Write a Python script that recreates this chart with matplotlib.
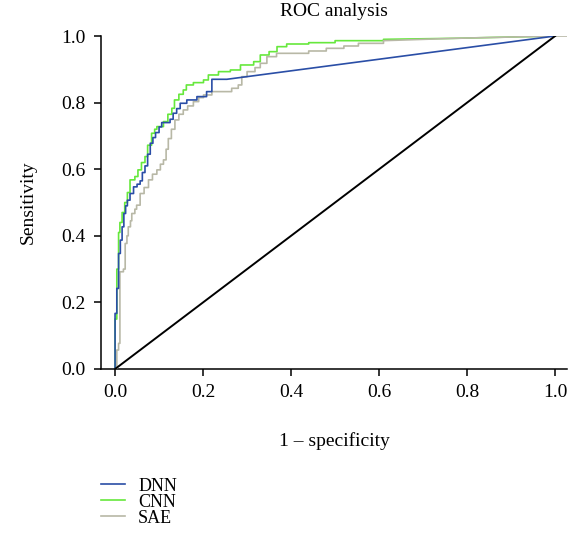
import matplotlib
matplotlib.use('Agg')
import matplotlib.pyplot as plt

# ROC curve vertices (fpr, tpr)
dnn_fpr = [0, 0, 0.004, 0.004, 0.008, 0.008, 0.012, 0.012, 0.016, 0.016,
           0.020, 0.020, 0.024, 0.024, 0.028, 0.028, 0.034, 0.034, 0.042, 0.042,
           0.050, 0.050, 0.057, 0.057, 0.062, 0.062, 0.068, 0.068, 0.074, 0.074,
           0.080, 0.080, 0.086, 0.086, 0.092, 0.092, 0.100, 0.100, 0.106, 0.106,
           0.125, 0.125, 0.132, 0.132, 0.140, 0.140, 0.148, 0.148, 0.163, 0.163,
           0.186, 0.186, 0.208, 0.208, 0.220, 0.220, 0.254, 1.0]
dnn_tpr = [0, 0.167, 0.167, 0.242, 0.242, 0.347, 0.347, 0.387, 0.387, 0.427,
           0.427, 0.467, 0.467, 0.490, 0.490, 0.507, 0.507, 0.527, 0.527, 0.547,
           0.547, 0.555, 0.555, 0.565, 0.565, 0.590, 0.590, 0.610, 0.610, 0.645,
           0.645, 0.678, 0.678, 0.695, 0.695, 0.710, 0.710, 0.727, 0.727, 0.740,
           0.740, 0.750, 0.750, 0.768, 0.768, 0.782, 0.782, 0.798, 0.798, 0.808,
           0.808, 0.818, 0.818, 0.833, 0.833, 0.870, 0.870, 1.0]

cnn_fpr = [0, 0, 0.004, 0.004, 0.008, 0.008, 0.011, 0.011, 0.016, 0.016,
           0.022, 0.022, 0.028, 0.028, 0.034, 0.034, 0.045, 0.045, 0.052, 0.052,
           0.060, 0.060, 0.068, 0.068, 0.074, 0.074, 0.083, 0.083, 0.090, 0.090,
           0.095, 0.095, 0.110, 0.110, 0.120, 0.120, 0.129, 0.129, 0.135, 0.135,
           0.145, 0.145, 0.155, 0.155, 0.162, 0.162, 0.178, 0.178, 0.201, 0.201,
           0.212, 0.212, 0.235, 0.235, 0.262, 0.262, 0.285, 0.285, 0.315, 0.315,
           0.330, 0.330, 0.350, 0.350, 0.368, 0.368, 0.390, 0.390, 0.440, 0.440,
           0.500, 0.500, 0.610, 0.610, 0.770, 1.0]
cnn_tpr = [0, 0.150, 0.150, 0.300, 0.300, 0.410, 0.410, 0.440, 0.440, 0.470,
           0.470, 0.500, 0.500, 0.530, 0.530, 0.568, 0.568, 0.578, 0.578, 0.598,
           0.598, 0.620, 0.620, 0.638, 0.638, 0.672, 0.672, 0.708, 0.708, 0.720,
           0.720, 0.728, 0.728, 0.743, 0.743, 0.765, 0.765, 0.783, 0.783, 0.808,
           0.808, 0.825, 0.825, 0.838, 0.838, 0.853, 0.853, 0.860, 0.860, 0.868,
           0.868, 0.883, 0.883, 0.893, 0.893, 0.898, 0.898, 0.913, 0.913, 0.923,
           0.923, 0.943, 0.943, 0.953, 0.953, 0.968, 0.968, 0.976, 0.976, 0.980,
           0.980, 0.986, 0.986, 0.990, 0.993, 1.0]

sae_fpr = [0, 0.004, 0.004, 0.008, 0.008, 0.011, 0.011, 0.019, 0.019, 0.023,
           0.023, 0.027, 0.027, 0.030, 0.030, 0.035, 0.035, 0.038, 0.038, 0.045,
           0.045, 0.049, 0.049, 0.057, 0.057, 0.066, 0.066, 0.076, 0.076, 0.085,
           0.085, 0.095, 0.095, 0.103, 0.103, 0.110, 0.110, 0.116, 0.116, 0.121,
           0.121, 0.128, 0.128, 0.136, 0.136, 0.145, 0.145, 0.155, 0.155, 0.165,
           0.165, 0.178, 0.178, 0.190, 0.190, 0.201, 0.201, 0.220, 0.220, 0.265,
           0.265, 0.280, 0.280, 0.288, 0.288, 0.300, 0.300, 0.318, 0.318, 0.330,
           0.330, 0.345, 0.345, 0.367, 0.367, 0.440, 0.440, 0.480, 0.480, 0.520,
           0.520, 0.553, 0.553, 0.610, 0.610, 0.770, 1.0, 1.03]
sae_tpr = [0, 0, 0.057, 0.057, 0.077, 0.077, 0.292, 0.292, 0.300, 0.300,
           0.377, 0.377, 0.400, 0.400, 0.427, 0.427, 0.445, 0.445, 0.467, 0.467,
           0.480, 0.480, 0.492, 0.492, 0.527, 0.527, 0.545, 0.545, 0.568, 0.568,
           0.585, 0.585, 0.598, 0.598, 0.615, 0.615, 0.628, 0.628, 0.660, 0.660,
           0.692, 0.692, 0.720, 0.720, 0.748, 0.748, 0.765, 0.765, 0.778, 0.778,
           0.790, 0.790, 0.803, 0.803, 0.815, 0.815, 0.823, 0.823, 0.833, 0.833,
           0.843, 0.843, 0.853, 0.853, 0.878, 0.878, 0.893, 0.893, 0.905, 0.905,
           0.918, 0.918, 0.938, 0.938, 0.948, 0.948, 0.955, 0.955, 0.963, 0.963,
           0.970, 0.970, 0.978, 0.978, 0.986, 0.993, 1.0, 1.0]

chance = [0, 1]
ticks = [0.0, 0.2, 0.4, 0.6, 0.8, 1.0]

plt.rcParams['font.family'] = ['Liberation Serif', 'DejaVu Serif']

fig = plt.figure(figsize=(5.81, 5.39), dpi=100)
ax = fig.add_axes([0.1738, 0.3154, 0.8021, 0.6178])

ax.plot(cnn_fpr, cnn_tpr, color='#66e83c', lw=1.2, label='CNN', zorder=2)
ax.plot(sae_fpr, sae_tpr, color='#b8b8a6', lw=1.2, label='SAE', zorder=3)
ax.plot(dnn_fpr, dnn_tpr, color='#2a4ea6', lw=1.2, label='DNN', zorder=4)
ax.plot(chance, chance, color='black', lw=1.4, zorder=5)

ax.set_xlim(-0.032, 1.027)
ax.set_ylim(0, 1)
ax.set_xticks(ticks)
ax.set_yticks(ticks)
ax.set_xticklabels([f'{t:.1f}' for t in ticks])
ax.set_yticklabels([f'{t:.1f}' for t in ticks])
ax.tick_params(labelsize=14, length=5, width=1.1, pad=6)
for s in ['top', 'right']:
    ax.spines[s].set_visible(False)
for s in ['left', 'bottom']:
    ax.spines[s].set_linewidth(1.1)

ax.set_xlabel('1 – specificity', fontsize=14)
ax.xaxis.set_label_coords(0.5, -0.19)
ax.set_ylabel('Sensitivity', fontsize=14)
ax.yaxis.set_label_coords(-0.137, 0.5)

fig.text(0.575, 0.978, 'ROC analysis', ha='center', va='center', fontsize=14)

h, l = ax.get_legend_handles_labels()
order = [2, 0, 1]
fig.legend([h[i] for i in order], [l[i] for i in order],
           loc='upper left', bbox_to_anchor=(0.174, 0.114), bbox_transform=fig.transFigure,
           frameon=False, fontsize=13, handlelength=1.3, handletextpad=0.75,
           labelspacing=-0.05, borderaxespad=0, borderpad=0)

fig.savefig('out.png', dpi=100)
